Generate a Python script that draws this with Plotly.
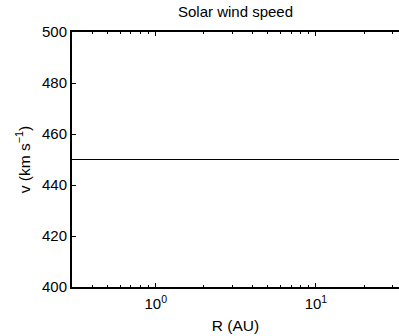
import plotly.graph_objects as go
import numpy as np

R_au = [0.3, 1.0, 10.0, 40.0]
v_kms = [450, 450, 450, 450]
x_tickvals = [1, 10]
x_ticktext = ["10<sup>0</sup>", "10<sup>1</sup>"]
x_minor = [0.3, 0.4, 0.5, 0.6, 0.7, 0.8, 0.9, 2, 3, 4, 5, 6, 7, 8, 9, 20, 30]
y_tickvals = [400, 420, 440, 460, 480, 500]

W, H = 399, 336

fig = go.Figure()
fig.add_trace(go.Scatter(x=R_au, y=v_kms, mode="lines",
                         line=dict(color="black", width=1.2), showlegend=False,
                         hoverinfo="skip"))

font = dict(family="Liberation Sans, Arial, Helvetica, sans-serif", size=15, color="black")
fig.update_layout(
    width=W, height=H,
    margin=dict(l=72, r=0, t=32, b=49, autoexpand=False),
    plot_bgcolor="white", paper_bgcolor="white",
    font=font,
    title=dict(text="Solar wind speed", x=(72 + 399) / 2 / W, xanchor="center", xref="container",
               y=1 - 12 / H, yanchor="middle", yref="container", font=dict(size=15)),
    xaxis=dict(type="log", range=[np.log10(0.3), (399 - 156) / 160],
               tickvals=x_tickvals, ticktext=x_ticktext, ticklabelstandoff=2,
               ticks="inside", ticklen=4, tickwidth=1, tickcolor="black",
               showline=True, linecolor="black", linewidth=2, mirror="ticks",
               showgrid=False, zeroline=False, automargin=False,
               minor=dict(tickvals=x_minor, ticks="inside", ticklen=2, tickcolor="black", showgrid=False),
               title=dict(text="R (AU)", standoff=9, font=dict(size=15.5))),
    yaxis=dict(range=[400, 500], tickvals=y_tickvals,
               ticks="inside", ticklen=4, tickwidth=1, tickcolor="black",
               showline=True, linecolor="black", linewidth=2,
               showgrid=False, zeroline=False, automargin=False,
               title=dict(text="v (km s<sup>\u22121</sup>)", standoff=8, font=dict(size=15.5))),
)
fig.write_html("out.html", config={"displayModeBar": False},
               post_script="document.body.style.margin='0';document.body.style.overflow='hidden';")
